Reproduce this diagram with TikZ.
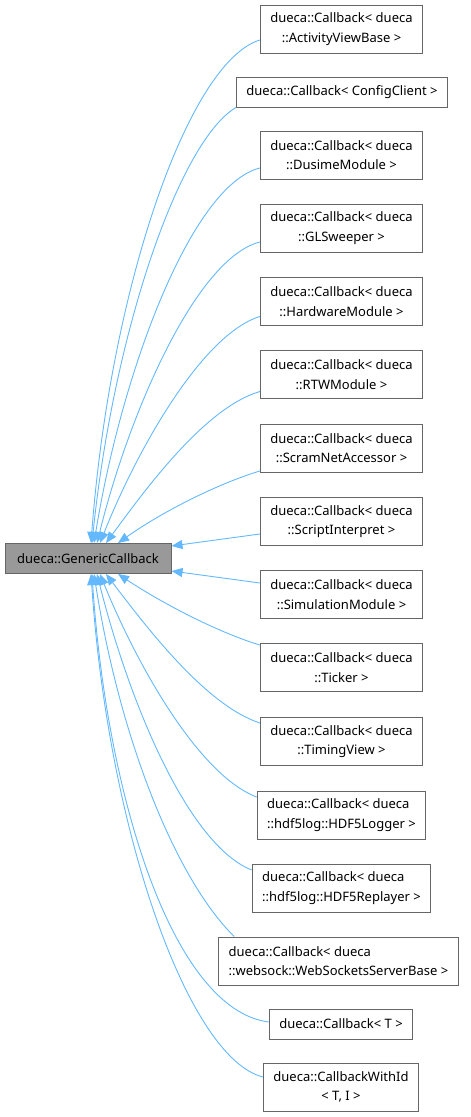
\documentclass[tikz,border=0pt]{standalone}
\usepackage{fontspec}
\setmainfont{Noto Sans}
\usetikzlibrary{arrows.meta}

\definecolor{edgeblue}{HTML}{63B8FF}
\definecolor{boxgray}{HTML}{666666}
\definecolor{basefill}{HTML}{999999}

\tikzset{
  cls/.style={draw=boxgray, line width=1pt, fill=white, inner xsep=10pt,
    minimum height=30pt, font=\fontsize{13}{19.5}\selectfont, align=center},
  clstwo/.style={cls, minimum height=48pt},
  basecls/.style={cls, fill=basefill, inner xsep=8pt, minimum width=166pt},
  edge/.style={<-, draw=edgeblue, line width=0.9pt}
}

\begin{document}
\begin{tikzpicture}[x=1pt, y=-1pt, >={Triangle[length=11pt,width=9pt]}]
\useasboundingbox (0,0) rectangle (471,1117);

\node[basecls] (base) at (88,558.5) {dueca::GenericCallback};

\node[clstwo] (c1) at (341.5,29) {dueca::Callback< dueca\\::ActivityViewBase >};
\node[cls] (c2) at (342,92) {dueca::Callback< ConfigClient >};
\node[clstwo] (c3) at (341.5,155) {dueca::Callback< dueca\\::DusimeModule >};
\node[clstwo] (c4) at (341.5,228) {dueca::Callback< dueca\\::GLSweeper >};
\node[clstwo] (c5) at (341.5,301.5) {dueca::Callback< dueca\\::HardwareModule >};
\node[clstwo] (c6) at (341.5,374.5) {dueca::Callback< dueca\\::RTWModule >};
\node[clstwo] (c7) at (341.5,448) {dueca::Callback< dueca\\::ScramNetAccessor >};
\node[clstwo] (c8) at (341.5,521.5) {dueca::Callback< dueca\\::ScriptInterpret >};
\node[clstwo] (c9) at (341.5,594.5) {dueca::Callback< dueca\\::SimulationModule >};
\node[clstwo] (c10) at (341.5,667.5) {dueca::Callback< dueca\\::Ticker >};
\node[clstwo] (c11) at (341.5,741.5) {dueca::Callback< dueca\\::TimingView >};
\node[clstwo, align=left] (c12) at (341.5,815) {dueca::Callback< dueca\\::hdf5log::HDF5Logger >};
\node[clstwo, align=left] (c13) at (341.5,888) {dueca::Callback< dueca\\::hdf5log::HDF5Replayer >};
\node[clstwo, align=left] (c14) at (338.5,961) {dueca::Callback< dueca\\::websock::WebSocketsServerBase >};
\node[cls] (c15) at (341,1024) {dueca::Callback< T >};
\node[clstwo] (c16) at (341,1087) {dueca::CallbackWithId\\< T, I >};

% upper edges
\draw[edge] ([xshift=3pt]base.north) .. controls +(19,-253) and +(-72,22) .. ([yshift=-11pt]c1.west);
\draw[edge] ([xshift=4pt]base.north) .. controls +(22,-213) and +(-56,33) .. (c2.south west);
\draw[edge] ([xshift=6pt]base.north) .. controls +(28,-173) and +(-68,17) .. ([yshift=-13pt]c3.west);
\draw[edge] ([xshift=9pt]base.north) .. controls +(33,-133) and +(-63,16) .. ([yshift=-14pt]c4.west);
\draw[edge] ([xshift=12pt]base.north) .. controls +(37,-93) and +(-58,18) .. ([yshift=-15pt]c5.west);
\draw[edge] ([xshift=18pt]base.north) .. controls +(39,-53) and +(-55,16) .. ([yshift=-17pt]c6.west);
\draw[edge] ([xshift=30pt]base.north) .. controls +(47,-33) and +(-40,12) .. ([yshift=-23pt]c7.west);

% side edges
\draw[edge] ([yshift=12.5pt]base.east) -- ([yshift=-12.5pt]c8.west);
\draw[edge] ([yshift=-12.5pt]base.east) -- ([yshift=11.5pt]c9.west);

% lower edges
\draw[edge] ([xshift=30pt]base.south) .. controls +(47,31) and +(-40,-12) .. ([yshift=22.5pt]c10.west);
\draw[edge] ([xshift=18pt]base.south) .. controls +(39,51) and +(-55,-18) .. ([yshift=18.5pt]c11.west);
\draw[edge] ([xshift=12pt]base.south) .. controls +(37,91) and +(-58,-22) .. ([yshift=18pt]c12.west);
\draw[edge] ([xshift=9pt]base.south) .. controls +(33,131) and +(-63,-25) .. ([yshift=18pt]c13.west);
\draw[edge] ([xshift=6pt]base.south) .. controls +(26,166) and +(-58,-57) .. ([xshift=16pt]c14.north west);
\draw[edge] ([xshift=4pt]base.south) .. controls +(15,226) and +(-95,-12) .. ([yshift=2pt]c15.west);
\draw[edge] ([xshift=3pt]base.south) .. controls +(17,256) and +(-75,-19) .. ([yshift=10pt]c16.west);
\end{tikzpicture}
\end{document}
